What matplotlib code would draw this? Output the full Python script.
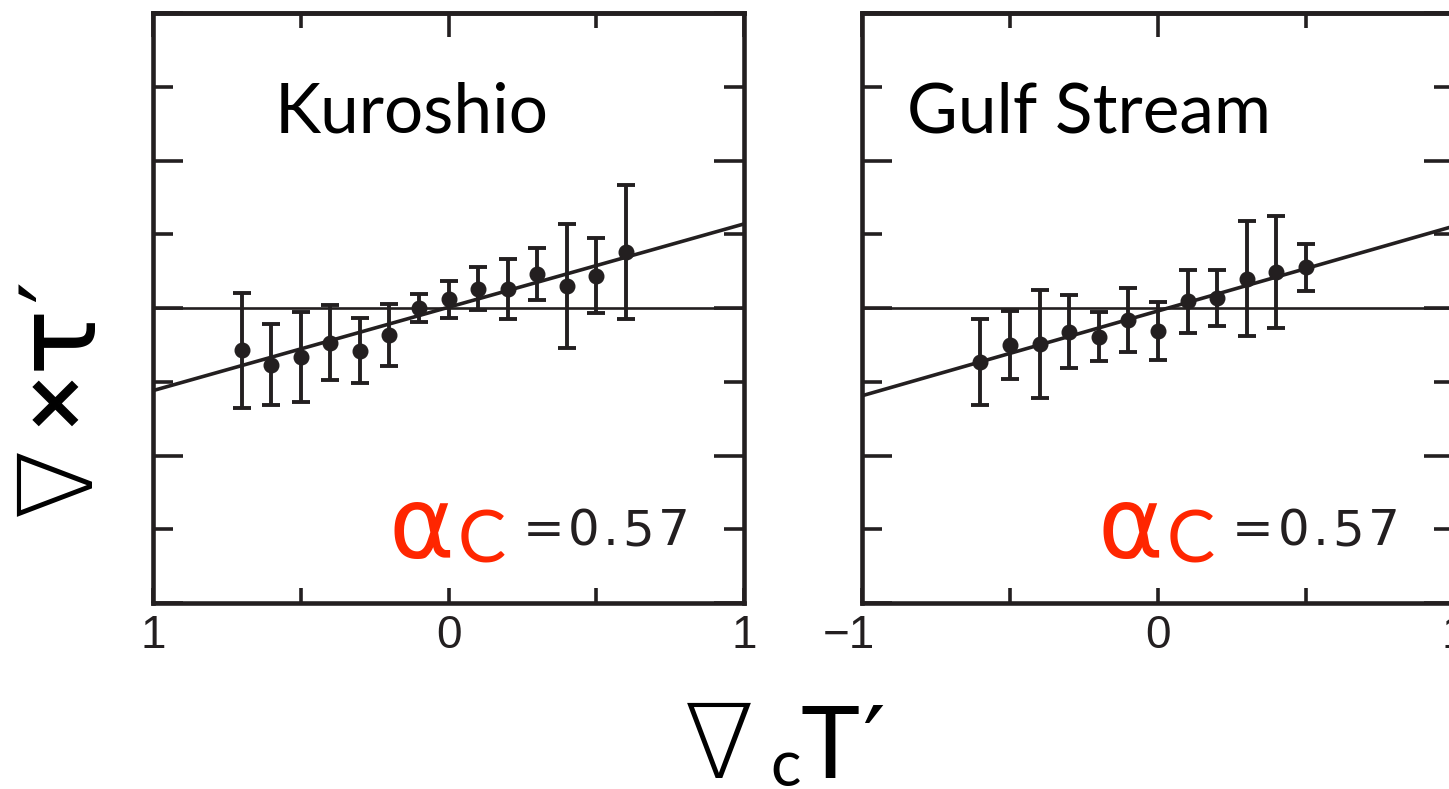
import matplotlib
matplotlib.use("Agg")
import numpy as np
import matplotlib.pyplot as plt
from matplotlib.transforms import ScaledTranslation

# ---- binned wind-stress curl vs. crosswind SST gradient ----
kuro_x = [-0.7, -0.6, -0.5, -0.4, -0.3, -0.2, -0.1, 0.0, 0.1, 0.2, 0.3, 0.4, 0.5, 0.6]
kuro_y = [-0.57, -0.77, -0.66, -0.47, -0.58, -0.36, 0.00, 0.12, 0.26, 0.26, 0.46, 0.30, 0.44, 0.76]
kuro_err = [0.78, 0.55, 0.61, 0.51, 0.44, 0.42, 0.19, 0.25, 0.29, 0.41, 0.35, 0.84, 0.51, 0.91]
kuro_fit = (0.01, 1.13)   # intercept, slope

gulf_x = [-0.6, -0.5, -0.4, -0.3, -0.2, -0.1, 0.0, 0.1, 0.2, 0.3, 0.4, 0.5]
gulf_y = [-0.73, -0.50, -0.49, -0.32, -0.39, -0.16, -0.31, 0.09, 0.13, 0.40, 0.49, 0.55]
gulf_err = [0.58, 0.46, 0.73, 0.49, 0.33, 0.43, 0.39, 0.43, 0.38, 0.78, 0.76, 0.32]
gulf_fit = (-0.04, 1.15)

panel_names = ["Kuroshio", "Gulf Stream"]
coupling = "=0.57"
xtick_vals = [-1, 0, 1]
kuro_xticklabels = ["1", "0", "1"]
gulf_xticklabels = ["\u22121", "0", "1"]

INK = "#231f20"
RED = "#ff2600"
W, H = 1449, 789

fig = plt.figure(figsize=(W / 100, H / 100), dpi=100)


def px_axes(left, top, right, bottom):
    return fig.add_axes([left / W, 1 - bottom / H, (right - left) / W, (bottom - top) / H])


def fx(px):
    return px / W


def fy(py):
    return 1 - py / H


def tracked(ax, x, y, s, gap_pt, **kw):
    t = ax.text(x, y, s[0], transform=ax.transAxes, ha="left", va="baseline", **kw)
    for ch in s[1:]:
        t = ax.annotate(ch, xy=(1, 0), xycoords=t, xytext=(gap_pt, 0),
                        textcoords="offset points", ha="left", va="bottom", **kw)
    return t


def panel(ax, xs, ys, errs, fit, ticklabels):
    ax.set_xlim(-1, 1)
    ax.set_ylim(-4, 4)
    ax.axhline(0, color=INK, lw=1.9, zorder=1)
    ax.errorbar(xs, ys, yerr=errs, fmt="o", color=INK, ms=10.5, elinewidth=2.8,
                capsize=6.5, capthick=2.8, zorder=3)
    lx = np.array([-1.0, 1.0])
    ax.plot(lx, fit[0] + fit[1] * lx, color=INK, lw=2.6, zorder=2)

    for sp in ax.spines.values():
        sp.set_linewidth(3.3)
        sp.set_color(INK)

    ax.set_yticks([-4, -2, 0, 2, 4])
    ax.set_yticks([-3, -1, 1, 3], minor=True)
    ax.tick_params(axis="y", which="major", direction="in", length=21.5, width=2.6,
                   color=INK, left=True, right=True, labelleft=False)
    ax.tick_params(axis="y", which="minor", direction="in", length=14.5, width=2.6,
                   color=INK, left=True, right=True, labelleft=False)
    ax.set_xticks(xtick_vals)
    ax.set_xticks([-0.5, 0.5], minor=True)
    ax.tick_params(axis="x", which="both", direction="in", length=10.5, width=2.6,
                   color=INK, bottom=True, top=False, pad=8)
    ax.set_xticklabels(ticklabels, fontsize=33, family="Liberation Sans", color=INK)

    top = ax.secondary_xaxis("top")
    top.set_xticks(xtick_vals)
    top.set_xticks([-0.5, 0.5], minor=True)
    top.tick_params(which="major", direction="in", length=17, width=2.6, color=INK, labeltop=False)
    top.tick_params(which="minor", direction="in", length=10.5, width=2.6, color=INK, labeltop=False)
    top.spines["top"].set_linewidth(3.3)
    top.spines["top"].set_color(INK)
    return ax


ax1 = px_axes(153, 13, 744, 603)
ax2 = px_axes(862, 13, 1454, 603)
panel(ax1, kuro_x, kuro_y, kuro_err, kuro_fit, kuro_xticklabels)
panel(ax2, gulf_x, gulf_y, gulf_err, gulf_fit, gulf_xticklabels)

lab = ax2.get_xticklabels()[0]
lab.set_horizontalalignment("right")
lab.set_transform(lab.get_transform() + ScaledTranslation(0.13, 0, fig.dpi_scale_trans))

title_font = ["Lato", "DejaVu Sans"]
ax1.text(0.205, 0.797, panel_names[0], transform=ax1.transAxes, fontsize=50,
         family=title_font, color="black", ha="left", va="baseline")
ax2.text(0.076, 0.797, panel_names[1], transform=ax2.transAxes, fontsize=50,
         family=title_font, color="black", ha="left", va="baseline")

for ax in (ax1, ax2):
    ax.text(0.398, 0.076, "\u03b1", transform=ax.transAxes, fontsize=72,
            family=["DejaVu Sans"], color=RED, ha="left", va="baseline")
    ax.text(0.515, 0.069, "C", transform=ax.transAxes, fontsize=52,
            family=title_font, color=RED, ha="left", va="baseline")
    tracked(ax, 0.625, 0.098, coupling, 2.6, fontsize=36, family="DejaVu Sans", color=INK)

# axis titles, built glyph by glyph
sym = ["DejaVu Sans"]
sans = ["Lato", "DejaVu Sans"]
rot = dict(rotation=90, rotation_mode="anchor", ha="left", va="baseline", color="black")
fig.text(fx(90), fy(516), "\u2207", fontsize=74, family=sym, weight="light", **rot)
fig.text(fx(72), fy(426), "\u00d7", fontsize=56, family=sym, weight="bold", **rot)
fig.text(fx(91), fy(370), "\u03c4", fontsize=80, family=sym, **rot)
fig.text(fx(88), fy(302), "\u2032", fontsize=70, family=sym, **rot)

fig.text(fx(684), fy(778), "\u2207", ha="left", va="baseline", fontsize=74,
         family=sym, weight="light", color="black")
fig.text(fx(770), fy(786), "c", ha="left", va="baseline", fontsize=46,
         family=sans, color="black")
fig.text(fx(800), fy(778), "T", ha="left", va="baseline", fontsize=72,
         family=sans, color="black")
fig.text(fx(862), fy(778), "\u2032", ha="left", va="baseline", fontsize=72,
         family=sym, color="black")

fig.savefig("out.png", dpi=100)
